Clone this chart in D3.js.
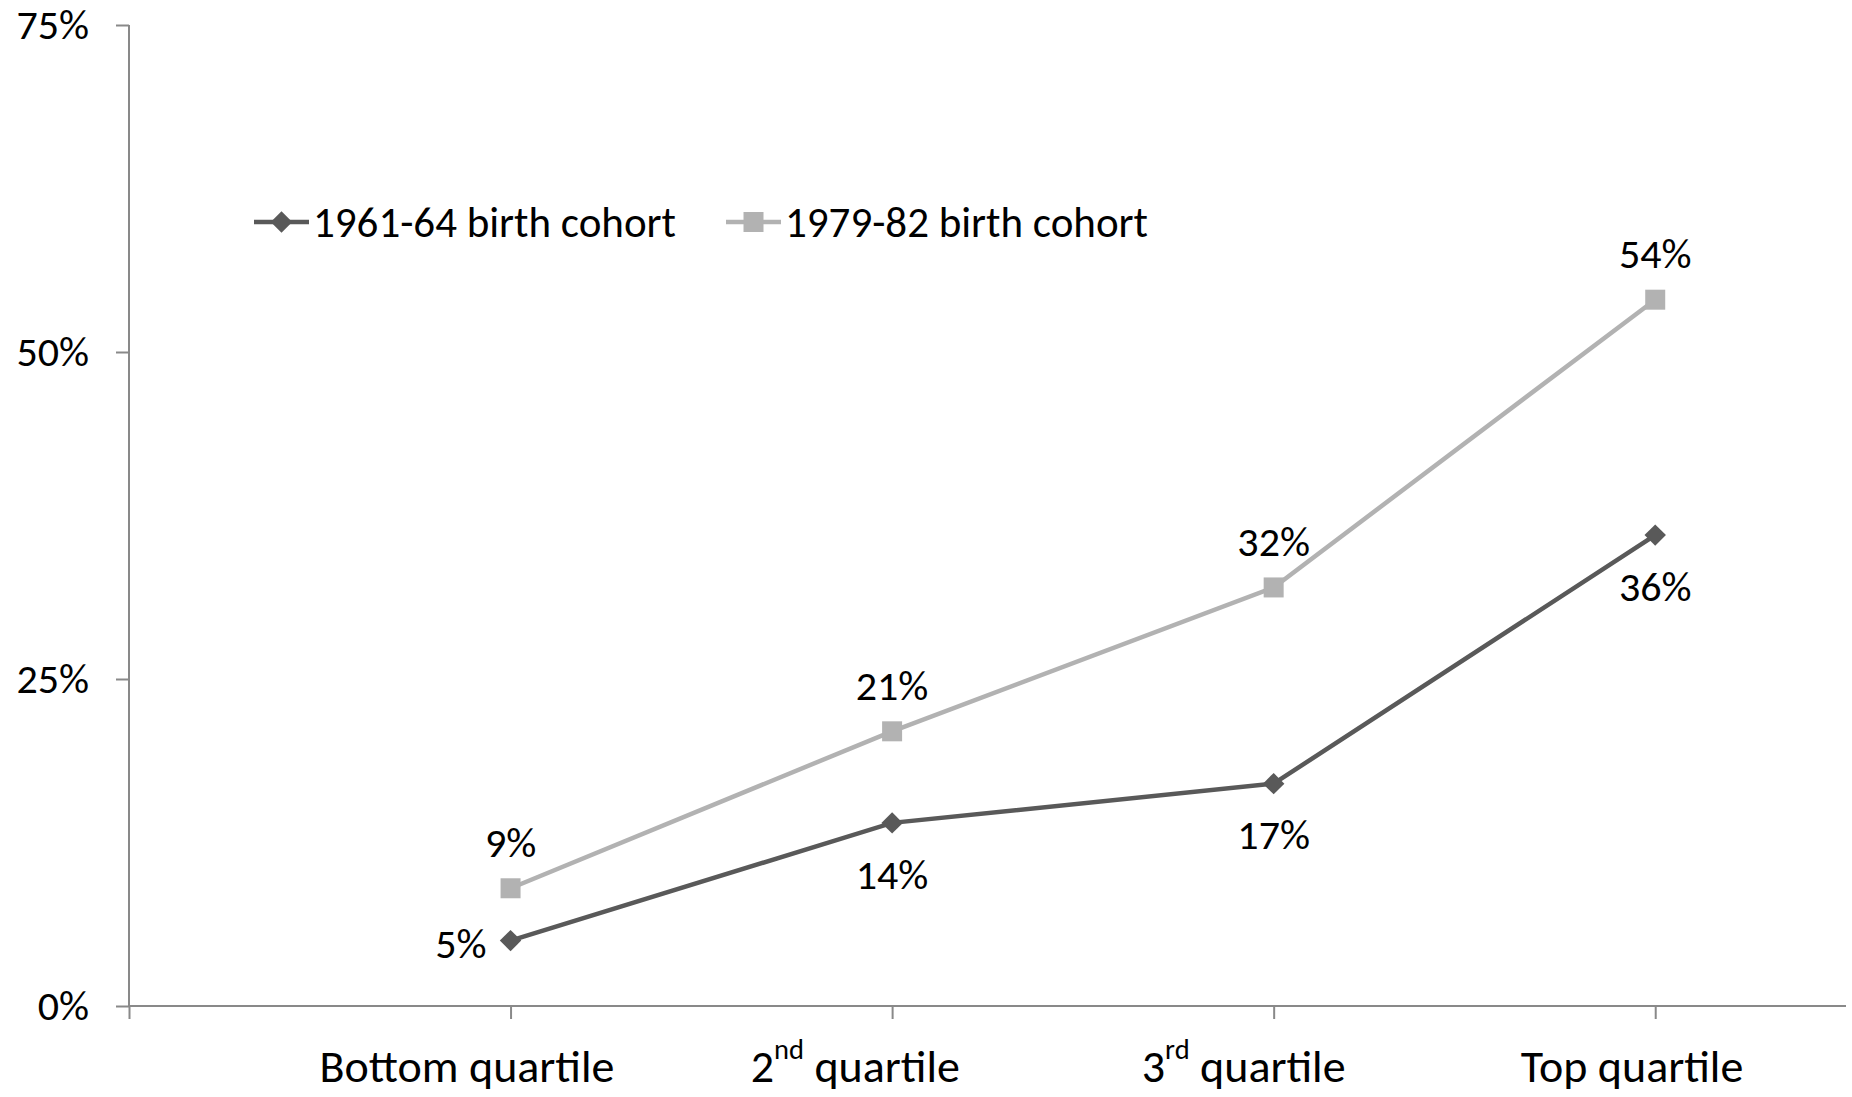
<!DOCTYPE html>
<html>
<head>
<meta charset="utf-8">
<script src="https://cdn.jsdelivr.net/npm/d3@7"></script>
<style>
  body { margin: 0; background: #fff; }
  text { font-family: Carlito, Calibri, Lato, sans-serif; fill: #000; }
</style>
</head>
<body>
<svg width="1852" height="1097"></svg>
<script>
'use strict';

const categories = [
  ['Bottom quartile', '', ''],
  ['2', 'nd', ' quartile'],
  ['3', 'rd', ' quartile'],
  ['Top quartile', '', '']
];
const seriesNames = ['1961-64 birth cohort', '1979-82 birth cohort'];
const cohort6164 = [0.05, 0.14, 0.17, 0.36];
const cohort7982 = [0.09, 0.21, 0.32, 0.54];
const yTicks = [0, 0.25, 0.5, 0.75];

const svg = d3.select('svg');
const numSize = 42;
const catSize = 46;
const legendSize = 43;
const axisColor = '#898989';

const x = d3.scaleLinear().domain([0, 4.5]).range([129, 1846]);
// category labels sit a little left of their ticks in the original
const xLabel = d3.scaleLinear().domain([0, 3]).range([467, 1632]);
const y = d3.scaleLinear().domain([0, 0.75]).range([1006, 25]);
const pct = d3.format('.0%');

// axes
const yAxis = svg.append('g')
  .attr('transform', `translate(${x(0)},0)`)
  .call(d3.axisLeft(y).tickValues(yTicks).tickSize(13).tickPadding(27).tickFormat(pct));
yAxis.selectAll('text').attr('font-size', numSize).attr('font-family', null);

const xAxis = svg.append('g')
  .attr('transform', `translate(0,${y(0)})`)
  .call(d3.axisBottom(x).tickValues([0, 1, 2, 3, 4]).tickSize(13).tickFormat(''));

yAxis.select('.domain').remove();
xAxis.select('.domain').remove();
svg.selectAll('.tick line')
  .attr('stroke', axisColor)
  .attr('stroke-width', 2);
yAxis.append('line').attr('x1', 0).attr('x2', 0).attr('y1', y(0.75)).attr('y2', y(0))
  .attr('stroke', axisColor).attr('stroke-width', 2);
xAxis.append('line').attr('x1', x(0)).attr('x2', x(4.5)).attr('y1', 0).attr('y2', 0)
  .attr('stroke', axisColor).attr('stroke-width', 2);

// category labels
const catText = svg.append('g').selectAll('text')
  .data(categories)
  .enter().append('text')
    .attr('x', (d, i) => xLabel(i))
    .attr('y', 1066)
    .attr('dy', '0.35em')
    .attr('text-anchor', 'middle')
    .attr('font-size', catSize);
catText.append('tspan').text(d => d[0]);
catText.filter(d => d[1]).append('tspan')
  .attr('font-size', catSize * 0.62)
  .attr('dy', '-0.8em')
  .text(d => d[1]);
catText.filter(d => d[1]).append('tspan')
  .attr('dy', '0.5em')
  .text(d => d[2]);

const diamond = d3.symbol().type(d3.symbolSquare).size(230);
const square = d3.symbol().type(d3.symbolSquare).size(400);

const series = [
  { name: seriesNames[0], values: cohort6164, color: '#595959', marker: diamond, rotate: 45 },
  { name: seriesNames[1], values: cohort7982, color: '#b2b2b2', marker: square, rotate: 0 }
];

const line = d3.line()
  .x((d, i) => x(i + 1))
  .y(d => y(d));

// lighter series first so the darker one sits on top
for (const s of series.slice().reverse()) {
  svg.append('path')
    .datum(s.values)
    .attr('fill', 'none')
    .attr('stroke', s.color)
    .attr('stroke-width', 4.5)
    .attr('d', line);
  svg.append('g').selectAll('path')
    .data(s.values)
    .enter().append('path')
      .attr('transform', (d, i) => `translate(${x(i + 1)},${y(d)}) rotate(${s.rotate})`)
      .attr('d', s.marker())
      .attr('fill', s.color);
}

// data labels
svg.append('g').selectAll('text')
  .data(cohort7982)
  .enter().append('text')
    .attr('x', (d, i) => x(i + 1))
    .attr('y', d => y(d) - 46)
    .attr('dy', '0.35em')
    .attr('text-anchor', 'middle')
    .attr('font-size', numSize)
    .text(pct);

svg.append('g').selectAll('text')
  .data(cohort6164)
  .enter().append('text')
    .attr('x', (d, i) => i === 0 ? x(i + 1) - 24 : x(i + 1))
    .attr('y', (d, i) => i === 0 ? y(d) + 3 : y(d) + 51)
    .attr('dy', '0.35em')
    .attr('text-anchor', (d, i) => i === 0 ? 'end' : 'middle')
    .attr('font-size', numSize)
    .text(pct);

// legend
const legendX = [254, 726];
const legend = svg.append('g').selectAll('g')
  .data(series)
  .enter().append('g')
    .attr('transform', (d, i) => `translate(${legendX[i]},222)`);
legend.append('line')
  .attr('x1', 0).attr('x2', 55)
  .attr('stroke', d => d.color)
  .attr('stroke-width', 4.5);
legend.append('path')
  .attr('transform', d => `translate(27.5,0) rotate(${d.rotate})`)
  .attr('d', d => d.marker())
  .attr('fill', d => d.color);
legend.append('text')
  .attr('x', 59)
  .attr('dy', '0.35em')
  .attr('font-size', legendSize)
  .text(d => d.name);
</script>
</body>
</html>
